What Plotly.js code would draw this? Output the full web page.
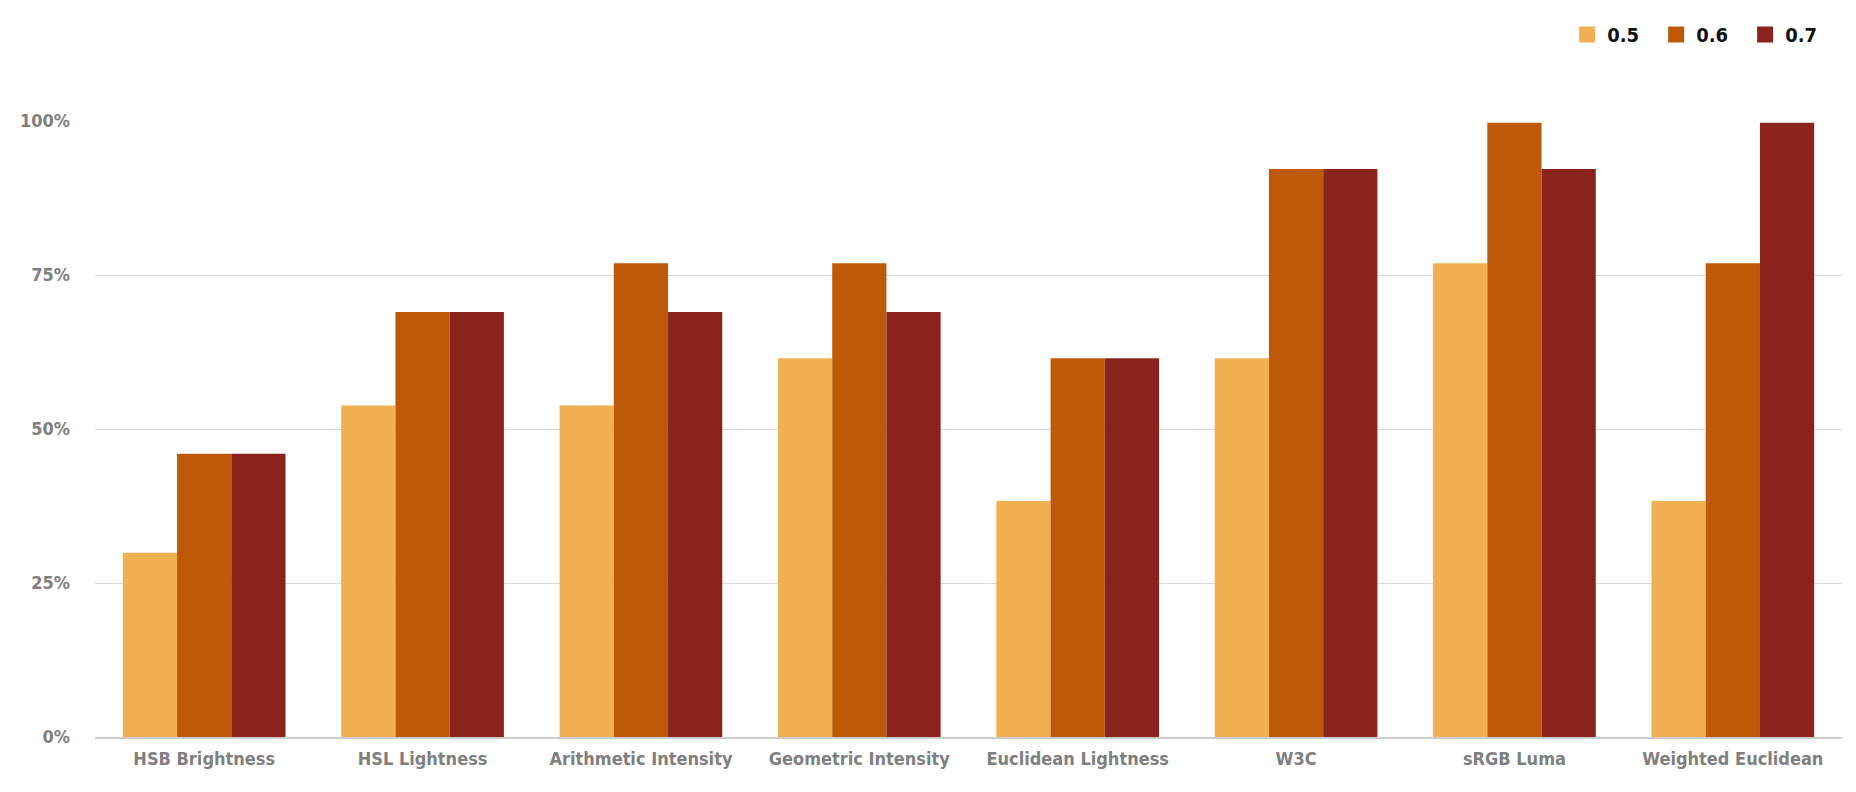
<!DOCTYPE html>
<html>
<head>
<meta charset="utf-8">
<script src="https://cdn.plot.ly/plotly-3.0.1.min.js"></script>
<style>
  html, body { margin: 0; padding: 0; background: #ffffff; }
  #chart { width: 1856px; height: 792px; }
</style>
</head>
<body>
<div id="chart"></div>
<script>
// Data
const categories = ["HSB Brightness", "HSL Lightness", "Arithmetic Intensity", "Geometric Intensity",
                    "Euclidean Lightness", "W3C", "sRGB Luma", "Weighted Euclidean"];
const seriesNames = ["0.5", "0.6", "0.7"];
const values05 = [0.299, 0.538, 0.538, 0.615, 0.383, 0.615, 0.769, 0.383];
const values06 = [0.460, 0.690, 0.769, 0.769, 0.615, 0.922, 0.997, 0.769];
const values07 = [0.460, 0.690, 0.690, 0.690, 0.615, 0.922, 0.922, 0.997];
const yTickVals = [0, 0.25, 0.5, 0.75, 1];
const yTickText = ["0%", "25%", "50%", "75%", "100%"];

const colors = ["#f1b152", "#be5a07", "#8a231b"];
const allValues = [values05, values06, values07];
const FONT = "'DejaVu Sans Condensed', 'Liberation Sans Narrow', sans-serif";

const traces = [];
allValues.forEach((vals, i) => {
  traces.push({
    type: "bar",
    name: seriesNames[i],
    x: categories,
    y: vals,
    marker: { color: colors[i], line: { width: 0 } },
    showlegend: false,
    hoverinfo: "x+y+name"
  });
});
// legend proxies (larger square swatches)
seriesNames.forEach((n, i) => {
  traces.push({
    type: "scatter",
    mode: "markers",
    name: n,
    x: [null],
    y: [null],
    marker: { symbol: "square", size: 16, color: colors[i] },
    showlegend: true,
    hoverinfo: "skip"
  });
});

const layout = {
  width: 1856,
  height: 792,
  margin: { l: 95, r: 14, t: 121, b: 55, pad: 0 },
  paper_bgcolor: "#ffffff",
  plot_bgcolor: "#ffffff",
  font: { family: FONT, size: 18, color: "#7f7f7f", weight: "bold" },
  barmode: "group",
  bargap: 0.255,
  bargroupgap: 0,
  showlegend: true,
  legend: {
    orientation: "h",
    x: 0.9955, xanchor: "right",
    y: 0.981, yanchor: "top",
    yref: "container",
    font: { family: FONT, size: 20, color: "#111111", weight: "bold" },
    itemsizing: "trace",
    entrywidth: 44,
    entrywidthmode: "pixels",
    bgcolor: "rgba(0,0,0,0)",
    traceorder: "normal"
  },
  xaxis: {
    type: "category",
    showgrid: false,
    showline: true,
    linecolor: "#cccccc",
    linewidth: 2,
    ticks: "",
    tickangle: 0,
    tickfont: { family: FONT, size: 18, color: "#7f7f7f", weight: "bold" },
    ticklabelstandoff: 4,
    zeroline: false
  },
  yaxis: {
    range: [0, 1],
    tickvals: yTickVals,
    ticktext: yTickText,
    showgrid: true,
    gridcolor: "#d9d9d9",
    gridwidth: 1,
    zeroline: false,
    showline: false,
    ticks: "",
    ticklabelstandoff: 24,
    tickfont: { family: FONT, size: 18, color: "#7f7f7f", weight: "bold" }
  }
};

Plotly.newPlot("chart", traces, layout, { displayModeBar: false, staticPlot: true });
</script>
</body>
</html>
